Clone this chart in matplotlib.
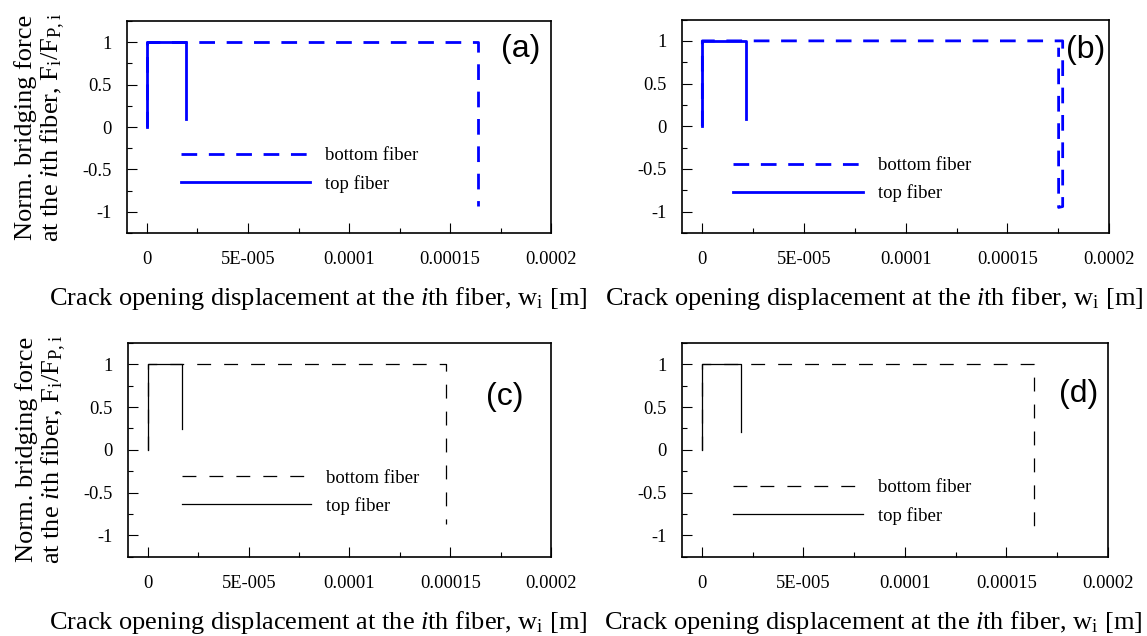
import numpy as np
import matplotlib
matplotlib.use("Agg")
import matplotlib.pyplot as plt

plt.rcParams['font.family'] = ['Liberation Serif', 'DejaVu Serif']
plt.rcParams['mathtext.fontset'] = 'custom'
plt.rcParams['mathtext.rm'] = 'Liberation Serif'
plt.rcParams['mathtext.it'] = 'Liberation Serif:italic'
plt.rcParams['lines.scale_dashes'] = False

# data (w in m, normalized force)
top_a_w = [0, 0, 1.925e-5, 1.925e-5]
top_a_f = [0, 1, 1, 0.10]
bot_a_w = [0, 0, 1.637e-4, 1.637e-4]
bot_a_f = [0, 1, 1, -0.93]

top_b_w = [0, 0, 2.14e-5, 2.14e-5]
top_b_f = [0, 1, 1, 0.083]
bot_b_w = [0, 0, 1.772e-4, 1.772e-4, 1.752e-4, 1.752e-4]
bot_b_f = [0, 1, 1, -0.94, -0.95, 0.92]

top_c_w = [0, 0, 1.69e-5, 1.69e-5]
top_c_f = [0, 1, 1, 0.24]
bot_c_w = [0, 0, 1.477e-4, 1.477e-4]
bot_c_f = [0, 1, 1, -0.865]

top_d_w = [0, 0, 1.92e-5, 1.92e-5]
top_d_f = [0, 1, 1, 0.209]
bot_d_w = [0, 0, 1.637e-4, 1.637e-4]
bot_d_f = [0, 1, 1, -0.927]

xticks = [0, 5e-5, 1e-4, 1.5e-4, 2e-4]
xticklabels = ['0', '5E-005', '0.0001', '0.00015', '0.0002']
yticks = [1, 0.5, 0, -0.5, -1]
yticklabels = ['1', '0.5', '0', '-0.5', '-1']

xlab = r'Crack opening displacement at the $\mathit{i}$th fiber, w$_\mathrm{i}$ [m]'
ylab = 'Norm. bridging force\n' + r'at the $\mathit{i}$th fiber, F$_\mathrm{i}$/F$_\mathrm{P,i}$'

fig = plt.figure(figsize=(11.47, 6.36), dpi=100)

panels = [
    # rect, top, bottom, color, lw, dashes, tag, tagpos, legpos, ylabel
    ([0.1105, 0.6333, 0.370, 0.334], (top_a_w, top_a_f), (bot_a_w, bot_a_f),
     'blue', 2.0, (11.3, 8.4), '(a)', (0.929, 0.866), (0.127, 0.298), True),
    ([0.5946, 0.6336, 0.3723, 0.3357], (top_b_w, top_b_f), (bot_b_w, bot_b_f),
     'blue', 2.0, (11.3, 8.4), '(b)', (0.945, 0.859), (0.120, 0.250), False),
    ([0.1114, 0.1247, 0.369, 0.336], (top_c_w, top_c_f), (bot_c_w, bot_c_f),
     'black', 0.9, (10, 9.4), '(c)', (0.890, 0.748), (0.127, 0.302), True),
    ([0.5942, 0.1247, 0.3718, 0.336], (top_d_w, top_d_f), (bot_d_w, bot_d_f),
     'black', 0.9, (10, 9.4), '(d)', (0.930, 0.761), (0.121, 0.256), False),
]

for rect, top, bot, col, lw, dsh, tag, tagpos, legpos, has_ylab in panels:
    ax = fig.add_axes(rect)
    ax.plot(bot[0], bot[1], color=col, lw=lw, dashes=dsh, label='bottom fiber')
    ax.plot(top[0], top[1], color=col, lw=lw, label='top fiber')
    ax.set_xlim(-1e-5, 2e-4)
    ax.set_ylim(-1.25, 1.25)
    ax.set_xticks(xticks)
    ax.set_xticklabels(xticklabels)
    ax.set_xticks(np.arange(0, 2.01e-4, 2.5e-5), minor=True)
    ax.set_yticks(yticks)
    ax.set_yticklabels(yticklabels)
    ax.set_yticks([-1.25, -0.75, -0.25, 0.25, 0.75, 1.25], minor=True)
    ax.tick_params(which='both', direction='in', top=False, right=False, width=0.8)
    ax.tick_params(which='major', length=7.2, labelsize=13.3)
    ax.tick_params(which='minor', length=3.6)
    ax.tick_params(axis='x', which='major', pad=13)
    ax.tick_params(axis='y', which='major', pad=11)
    for s in ax.spines.values():
        s.set_linewidth(1.2)
    ax.set_xlabel(xlab, fontsize=19)
    ax.xaxis.set_label_coords(0.45, -0.245)
    if has_ylab:
        ax.set_ylabel(ylab, fontsize=19, linespacing=1.05)
        ax.yaxis.set_label_coords(-0.141, 0.5)
    ax.text(tagpos[0], tagpos[1], tag, transform=ax.transAxes, fontsize=23,
            family='Liberation Sans', ha='center', va='center')
    ax.legend(loc='center left', bbox_to_anchor=legpos, frameon=False,
              fontsize=13.5, handlelength=6.9, handletextpad=0.8,
              labelspacing=0.55, borderpad=0, borderaxespad=0)

fig.savefig('out.png', dpi=100)
